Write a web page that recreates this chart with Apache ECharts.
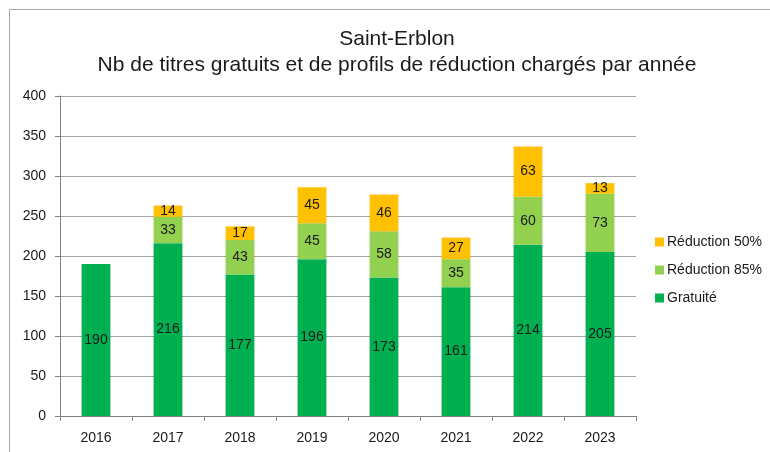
<!DOCTYPE html>
<html>
<head>
<meta charset="utf-8">
<script src="https://cdn.jsdelivr.net/npm/echarts@6/dist/echarts.min.js"></script>
<style>
  html, body { margin: 0; padding: 0; background: #fff; }
  #chart { width: 770px; height: 452px; }
</style>
</head>
<body>
<div id="chart"></div>
<script>
var years = ['2016', '2017', '2018', '2019', '2020', '2021', '2022', '2023'];
var gratuite = [190, 216, 177, 196, 173, 161, 214, 205];
var reduc85 = [null, 33, 43, 45, 58, 35, 60, 73];
var reduc50 = [null, 14, 17, 45, 46, 27, 63, 13];

var font = 'Liberation Sans, sans-serif';

function barSeries(name, data, color) {
  return {
    name: name,
    type: 'bar',
    stack: 'total',
    barWidth: '40%',
    data: data,
    itemStyle: { color: color },
    label: {
      show: true,
      position: 'inside',
      color: '#1a1a1a',
      fontSize: 14,
      fontFamily: font
    }
  };
}

var chart = echarts.init(document.getElementById('chart'));
chart.setOption({
  backgroundColor: '#fff',
  animation: false,
  graphic: [{
    type: 'rect',
    shape: { x: 9.5, y: 9.5, width: 770, height: 460 },
    style: { fill: null, stroke: '#a6a6a6', lineWidth: 1 }
  }],
  title: {
    text: 'Saint-Erblon\nNb de titres gratuits et de profils de réduction chargés par année',
    left: 392,
    textAlign: 'center',
    top: 21,
    textStyle: {
      fontFamily: font,
      fontSize: 21,
      fontWeight: 'normal',
      color: '#1a1a1a',
      lineHeight: 26
    }
  },
  legend: {
    orient: 'vertical',
    left: 650,
    top: 230,
    itemWidth: 9,
    itemHeight: 9,
    itemGap: 14,
    icon: 'rect',
    data: ['Réduction 50%', 'Réduction 85%', 'Gratuité'],
    textStyle: { fontFamily: font, fontSize: 14, color: '#1a1a1a', padding: [0, 0, 0, -2] }
  },
  grid: { left: 60, right: 134, top: 96, bottom: 36 },
  xAxis: {
    type: 'category',
    data: years,
    axisLine: { lineStyle: { color: '#808080' } },
    axisTick: { show: true, length: 5, lineStyle: { color: '#808080' } },
    axisLabel: { fontFamily: font, fontSize: 14, color: '#1a1a1a', margin: 15 }
  },
  yAxis: {
    type: 'value',
    min: 0,
    max: 400,
    interval: 50,
    axisLine: { show: true, lineStyle: { color: '#808080' } },
    axisTick: { show: true, length: 5, lineStyle: { color: '#808080' } },
    axisLabel: { fontFamily: font, fontSize: 14, color: '#1a1a1a', margin: 14 },
    splitLine: { lineStyle: { color: '#a6a6a6' } }
  },
  series: [
    barSeries('Gratuité', gratuite, '#00B050'),
    barSeries('Réduction 85%', reduc85, '#92D050'),
    barSeries('Réduction 50%', reduc50, '#FFC000')
  ]
});
</script>
</body>
</html>
